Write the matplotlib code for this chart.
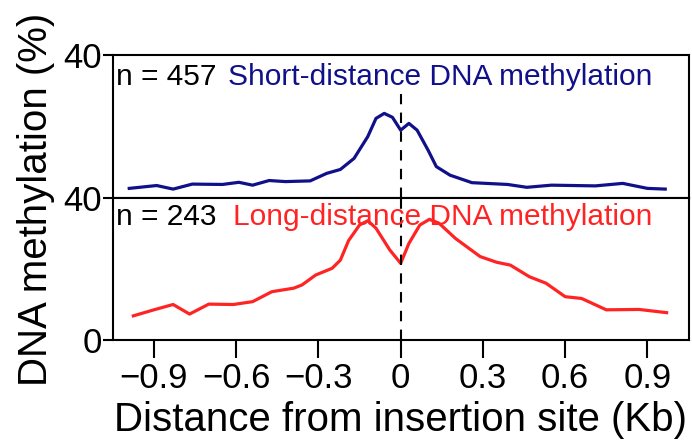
import matplotlib
matplotlib.use('Agg')
import matplotlib.pyplot as plt

plt.rcParams['font.family'] = ['Liberation Sans', 'DejaVu Sans']

# 读出的数据
x_short = [-0.99, -0.89, -0.83, -0.76, -0.65, -0.59, -0.54, -0.48, -0.42, -0.33,
           -0.27, -0.22, -0.17, -0.12, -0.09, -0.06, -0.03, 0.0, 0.03, 0.06,
           0.10, 0.13, 0.18, 0.26, 0.39, 0.46, 0.55, 0.71, 0.81, 0.90, 0.965]
y_short = [2.7, 3.5, 2.5, 3.9, 3.8, 4.4, 3.6, 4.9, 4.6, 4.8,
           6.9, 8.0, 11.1, 17.2, 22.3, 23.7, 22.6, 19.0, 20.9, 19.0,
           13.4, 8.8, 6.4, 4.3, 3.8, 3.0, 3.6, 3.4, 4.1, 2.7, 2.5]

x_long = [-0.975, -0.90, -0.83, -0.77, -0.70, -0.61, -0.54, -0.47, -0.39, -0.36,
          -0.31, -0.25, -0.22, -0.19, -0.15, -0.12, -0.09, -0.04, 0.0, 0.03,
          0.07, 0.105, 0.14, 0.20, 0.29, 0.35, 0.40, 0.47, 0.53, 0.60,
          0.66, 0.75, 0.87, 0.97]
y_long = [6.8, 8.5, 10.0, 7.3, 10.1, 10.0, 10.8, 13.6, 14.6, 15.5,
          18.3, 20.2, 22.5, 28.0, 32.4, 33.6, 31.5, 25.4, 21.6, 27.2,
          32.4, 34.0, 32.9, 28.6, 23.5, 21.9, 21.1, 17.8, 16.0, 12.2,
          11.7, 8.5, 8.6, 7.7]

xticks = [-0.9, -0.6, -0.3, 0, 0.3, 0.6, 0.9]
xticklabels = ['\u22120.9', '\u22120.6', '\u22120.3', '0', '0.3', '0.6', '0.9']

navy = '#10108a'
red = '#ff2424'

fig = plt.figure(figsize=(6.92, 4.45), dpi=100)
ax1 = fig.add_axes([0.163, 0.555, 0.832, 0.321])
ax2 = fig.add_axes([0.163, 0.236, 0.832, 0.319])

for ax in (ax1, ax2):
    ax.set_xlim(-1.05, 1.05)
    ax.set_ylim(0, 40)
    for s in ax.spines.values():
        s.set_linewidth(1.5)
    ax.tick_params(axis='y', width=1.5, length=7, labelsize=25, direction='out', pad=1)

ax1.plot(x_short, y_short, color=navy, lw=2.3)
ax1.axvline(0, ymax=0.73, color='black', lw=1.5, dashes=(5, 4))
ax1.set_yticks([40])
ax1.set_xticks([])
ax1.text(0.005, 0.85, 'n = 457', transform=ax1.transAxes, fontsize=21.5, va='center', ha='left')
ax1.text(0.2, 0.85, 'Short-distance DNA methylation', transform=ax1.transAxes,
         fontsize=21.5, va='center', ha='left', color=navy)

ax2.plot(x_long, y_long, color=red, lw=2.3)
ax2.axvline(0, color='black', lw=1.5, dashes=(5, 4))
ax2.set_yticks([0, 40])
ax2.set_xticks(xticks)
ax2.set_xticklabels(xticklabels)
ax2.tick_params(axis='x', width=1.5, length=13, labelsize=25, direction='out', pad=3)
ax2.text(0.005, 0.865, 'n = 243', transform=ax2.transAxes, fontsize=21.5, va='center', ha='left')
ax2.text(0.208, 0.865, 'Long-distance DNA methylation', transform=ax2.transAxes,
         fontsize=21.5, va='center', ha='left', color=red)
ax2.set_xlabel('Distance from insertion site (Kb)', fontsize=29, labelpad=4)

fig.text(0.052, 0.553, 'DNA methylation (%)', rotation=90, fontsize=29, va='center', ha='center')

fig.savefig('out.png', dpi=100)
